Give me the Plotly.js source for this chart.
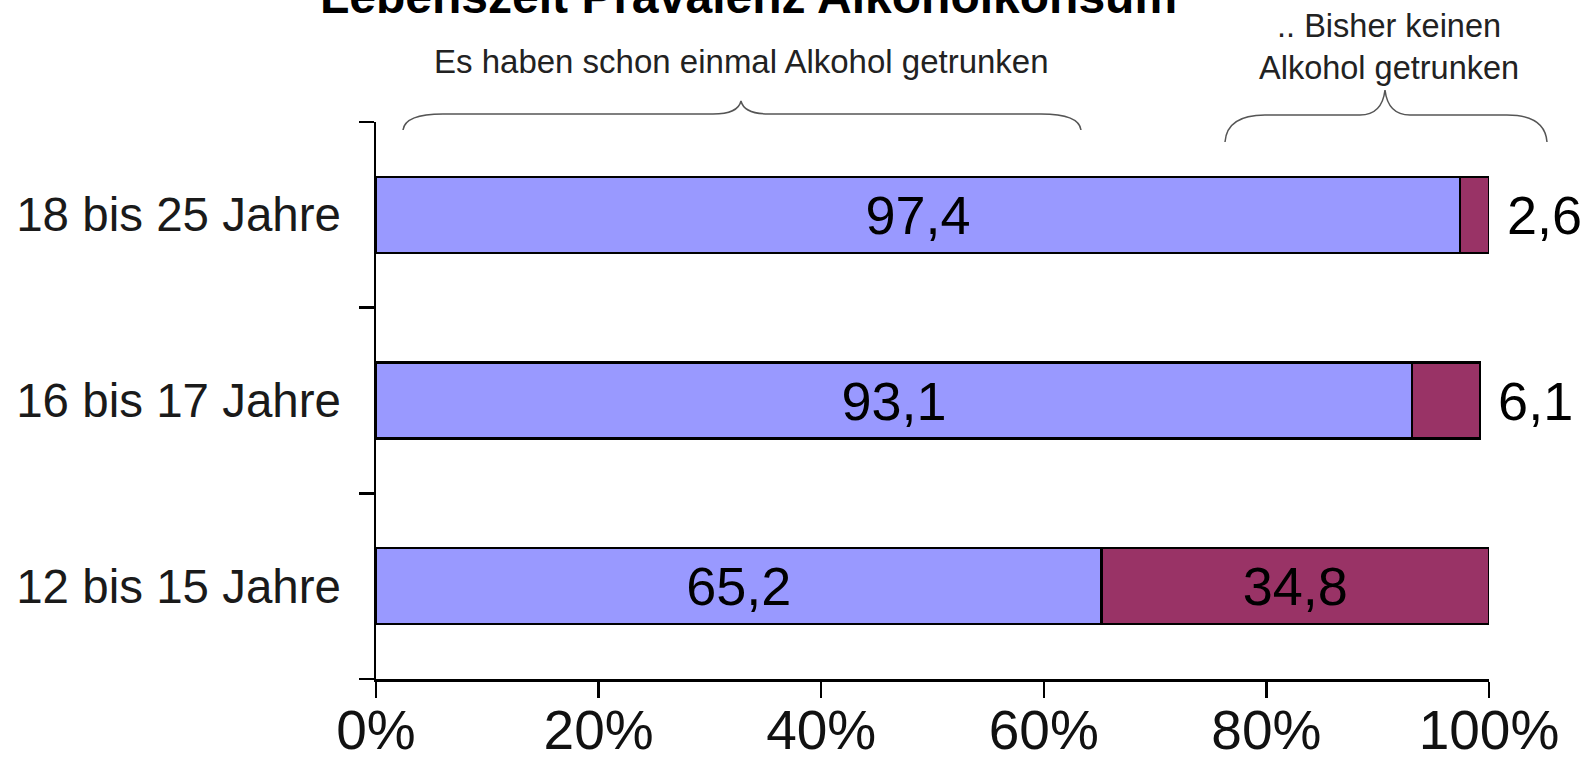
<!DOCTYPE html>
<html>
<head>
<meta charset="utf-8">
<script src="https://cdn.plot.ly/plotly-3.0.1.min.js"></script>
<style>html,body{margin:0;padding:0;background:#fff;}#chart{width:1592px;height:782px;}</style>
</head>
<body>
<div id="chart"></div>
<script>
// Data
const categories = ['12 bis 15 Jahre', '16 bis 17 Jahre', '18 bis 25 Jahre'];
const schonGetrunken = [65.2, 93.1, 97.4];
const keinAlkohol = [34.8, 6.1, 2.6];
const keinTextPos = ['inside', 'outside', 'outside'];
const xTickVals = [0, 20, 40, 60, 80, 100];
const xTickText = ['0%', '20%', '40%', '60%', '80%', '100%'];
const titleText = 'Lebenszeit Prävalenz Alkoholkonsum';
const groupLabelLeft = 'Es haben schon einmal Alkohol getrunken';
const groupLabelRight = '.. Bisher keinen<br>Alkohol getrunken';

// pixel helpers for the decorative layer
const L = 376, R = 1489, T = 122, B = 679;
const px = x => (x - L) / (R - L);
const py = y => (B - y) / (B - T);

function brace(x1, x2, xm, yEnd, yFlat, yTip, r, rt) {
  const p = (x, y) => px(x).toFixed(5) + ',' + py(y).toFixed(5);
  return 'M' + p(x1, yEnd) +
    ' Q' + p(x1 + 2, yFlat) + ' ' + p(x1 + r, yFlat) +
    ' L' + p(xm - rt, yFlat) +
    ' Q' + p(xm - 3, yFlat) + ' ' + p(xm, yTip) +
    ' Q' + p(xm + 3, yFlat) + ' ' + p(xm + rt, yFlat) +
    ' L' + p(x2 - r, yFlat) +
    ' Q' + p(x2 - 2, yFlat) + ' ' + p(x2, yEnd);
}

const fontFam = '"Liberation Sans", Arial, sans-serif';

const traces = [
  {
    type: 'bar', orientation: 'h', y: categories, x: schonGetrunken,
    marker: {color: '#9999FF', line: {color: '#000', width: 2.5}},
    texttemplate: '%{x:.1f}', textposition: 'inside', insidetextanchor: 'middle',
    textfont: {family: fontFam, size: 54, color: '#000'},
    constraintext: 'none', cliponaxis: false, hoverinfo: 'none'
  },
  {
    type: 'bar', orientation: 'h', y: categories, x: keinAlkohol,
    marker: {color: '#993366', line: {color: '#000', width: 2.5}},
    texttemplate: keinTextPos.map(p => p === 'outside' ? '\u00a0%{x:.1f}' : '%{x:.1f}'),
    textposition: keinTextPos, insidetextanchor: 'middle',
    textfont: {family: fontFam, size: 54, color: '#000'},
    constraintext: 'none', cliponaxis: false, hoverinfo: 'none'
  }
];

const layout = {
  width: 1592, height: 782,
  margin: {l: L, r: 1592 - R, t: T, b: 782 - B, pad: 0},
  paper_bgcolor: '#fff', plot_bgcolor: '#fff',
  barmode: 'stack', bargap: 0.59,
  separators: ',.',
  showlegend: false,
  font: {family: fontFam, color: '#000'},
  xaxis: {
    range: [0, 100], tickmode: 'array', tickvals: xTickVals, ticktext: xTickText,
    showgrid: false, zeroline: false,
    showline: true, linecolor: '#000', linewidth: 2.5,
    ticks: 'outside', ticklen: 16, tickwidth: 2.5, tickcolor: '#000',
    tickfont: {family: fontFam, size: 55, color: '#111'},
    ticklabelstandoff: -15, fixedrange: true
  },
  yaxis: {
    type: 'category', categoryorder: 'array', categoryarray: categories,
    showgrid: false, zeroline: false,
    showline: true, linecolor: '#000', linewidth: 2.5,
    ticks: 'outside', tickson: 'boundaries', ticklen: 15, tickwidth: 2.5, tickcolor: '#000',
    tickfont: {family: fontFam, size: 47.5, color: '#1a1a1a'},
    ticklabelstandoff: 23, fixedrange: true
  },
  annotations: [
    {text: '<b>' + titleText + '</b>', xref: 'paper', yref: 'paper', x: px(748), y: py(-3),
     xanchor: 'center', yanchor: 'middle', showarrow: false,
     font: {family: fontFam, size: 48, color: '#000'}},
    {text: groupLabelLeft, xref: 'paper', yref: 'paper', x: px(741), y: py(61),
     xanchor: 'center', yanchor: 'middle', showarrow: false,
     font: {family: fontFam, size: 33, color: '#222'}},
    {text: groupLabelRight, xref: 'paper', yref: 'paper', x: px(1389), y: py(47),
     xanchor: 'center', yanchor: 'middle', showarrow: false,
     font: {family: fontFam, size: 32.5, color: '#222'}}
  ],
  shapes: [
    {type: 'path', xref: 'paper', yref: 'paper',
     path: brace(403, 1081, 741, 130, 114, 101, 40, 28),
     line: {color: '#555', width: 1.5}},
    {type: 'path', xref: 'paper', yref: 'paper',
     path: brace(1225, 1547, 1385, 142, 115, 90, 40, 25),
     line: {color: '#555', width: 1.5}}
  ]
};

Plotly.newPlot('chart', traces, layout, {staticPlot: true, displayModeBar: false});
</script>
</body>
</html>
